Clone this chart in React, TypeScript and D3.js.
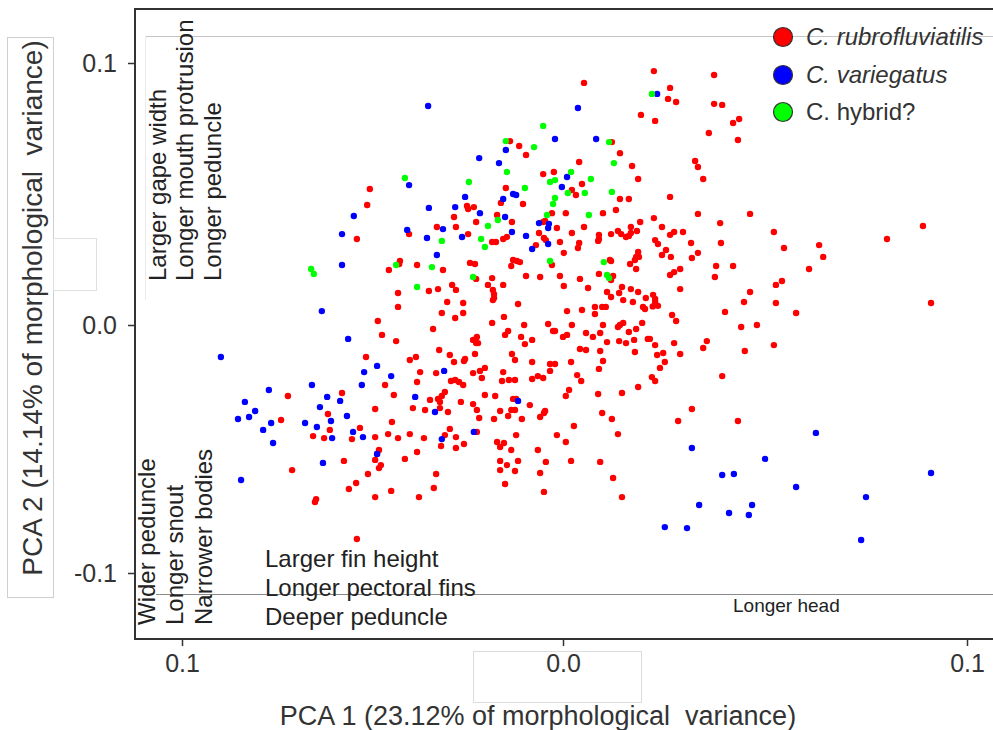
import { useEffect, useRef } from "react";
import * as d3 from "d3";

type Pt = [number, number];

// PCA scores: [PCA 1, PCA 2]
const redPts: Pt[] = [
  [-0.0507, 0.0519], [-0.0514, 0.0458], [-0.0541, 0.0328], [-0.0457, 0.021], [-0.043, 0.0233], [-0.0428, 0.0244], [-0.0433, 0.0122],
  [0.0052, 0.0924], [0.0193, 0.0802], [0.0121, 0.0698], [-0.0139, 0.0702], [-0.0115, 0.0683], [-0.0097, 0.0649], [0.0141, 0.0656],
  [0.004, 0.0622], [0.0171, 0.0607], [-0.0052, 0.0576], [-0.0024, 0.0584], [0.0186, 0.0557], [-0.015, 0.0523], [0.0022, 0.0515],
  [0.0047, 0.0538], [0.0032, 0.0496], [0.0141, 0.0481], [0.0163, 0.0481], [-0.0163, 0.0466], [-0.0105, 0.0462], [-0.0252, 0.0454],
  [-0.0249, 0.0443], [-0.0234, 0.045], [-0.0286, 0.0412], [-0.0228, 0.0393], [-0.0173, 0.042], [-0.0134, 0.0393], [-0.0029, 0.0427],
  [0.0007, 0.0427], [0.0099, 0.0427], [0.0131, 0.0439], [0.0191, 0.0393], [-0.0331, 0.0374], [-0.0281, 0.0374], [-0.0052, 0.0393],
  [-0.0047, 0.0397], [-0.0016, 0.037], [0.0052, 0.0374], [0.0168, 0.0374], [-0.0404, 0.0347], [-0.0249, 0.0347], [-0.0186, 0.0317],
  [-0.0176, 0.0317], [-0.0157, 0.0328], [-0.0147, 0.0336], [-0.0063, 0.0351], [-0.005, 0.0332], [-0.0045, 0.0324], [0.0022, 0.0351],
  [0.0089, 0.0344], [0.0089, 0.0328], [0.0087, 0.0321], [0.0119, 0.0347], [0.0136, 0.0359], [0.0144, 0.0347], [0.0156, 0.0336],
  [0.0163, 0.034], [0.0168, 0.0351], [0.0183, 0.0359], [-0.0071, 0.0305], [-0.0008, 0.0317], [0.004, 0.0313], [0.0037, 0.0294],
  [0.0002, 0.0275], [0.0186, 0.0279], [0.0181, 0.026], [0.0178, 0.0248], [0.0188, 0.026], [0.0116, 0.0248], [0.0119, 0.0244],
  [0.0089, 0.0195], [0.0119, 0.0172], [-0.0383, 0.0229], [-0.0315, 0.021], [-0.0244, 0.0237], [-0.0231, 0.0233], [-0.0136, 0.0225],
  [-0.0131, 0.0248], [-0.0121, 0.0244], [-0.0113, 0.024], [-0.0029, 0.0229], [-0.0097, 0.0187], [-0.006, 0.0183], [-0.0008, 0.0187],
  [0.0042, 0.0176], [0.0166, 0.0233], [0.0181, 0.0214], [0.0124, 0.0187], [0.0146, 0.0145], [0.0168, 0.0137], [0.0186, 0.0126],
  [0.0109, 0.0126], [0.0119, 0.0107], [0.0062, 0.0141], [0.0002, 0.0149], [-0.0228, 0.0176], [-0.0291, 0.0153], [-0.0281, 0.0134],
  [-0.0352, 0.013], [-0.0328, 0.0137], [-0.0197, 0.0153], [-0.0186, 0.0179], [-0.0184, 0.0134], [-0.0181, 0.0118], [-0.0181, 0.0103],
  [-0.0157, 0.0153], [0.0139, 0.0122], [0.0205, 0.0103],
  [0.0225, 0.0969], [0.0374, 0.0954], [0.0265, 0.0905], [0.026, 0.0863], [0.028, 0.0851], [0.0374, 0.0844], [0.0394, 0.084],
  [0.0228, 0.0779], [0.0436, 0.0786], [0.0421, 0.0771], [0.0361, 0.0733], [0.0433, 0.0706], [0.0327, 0.0626], [0.0334, 0.0603],
  [0.0347, 0.0557], [0.0265, 0.0489], [0.0334, 0.0424], [0.0463, 0.0424], [0.0225, 0.0408], [0.0245, 0.0374], [0.0389, 0.0389],
  [0.0522, 0.0355], [0.0265, 0.0344], [0.0275, 0.0355], [0.0297, 0.0355], [0.0228, 0.0324], [0.0235, 0.0309], [0.0317, 0.0313],
  [0.0391, 0.0313], [0.0547, 0.0294], [0.0634, 0.0305], [0.0644, 0.026], [0.0245, 0.0267], [0.0255, 0.0286], [0.0267, 0.026],
  [0.0319, 0.0256], [0.0334, 0.0275], [0.0379, 0.0225], [0.0421, 0.0225], [0.0609, 0.0214], [0.0265, 0.0191], [0.0275, 0.0202],
  [0.029, 0.0214], [0.0376, 0.0183], [0.0542, 0.0168], [0.0527, 0.0153], [0.029, 0.0137], [0.0463, 0.0126], [0.0228, 0.0099],
  [0.0223, 0.0115], [0.0802, 0.0328], [0.0891, 0.0378],
  [-0.0433, 0.0069], [-0.0486, 0.0015], [-0.0475, -0.004], [-0.0438, -0.0065], [-0.0517, -0.0129], [-0.0402, -0.0141], [-0.0386, -0.0129],
  [-0.0375, -0.019], [-0.0467, -0.0242], [-0.0383, -0.023], [-0.0722, -0.0286], [-0.058, -0.0274], [-0.0444, -0.0282], [-0.0349, -0.0302],
  [-0.0493, -0.0339], [-0.0394, -0.0335], [-0.0362, -0.0343], [-0.0617, -0.0359], [-0.074, -0.0383], [-0.0612, -0.0423], [-0.0533, -0.0415],
  [-0.0449, -0.0391], [-0.0656, -0.0448], [-0.0627, -0.0456], [-0.0554, -0.046], [-0.0493, -0.0452], [-0.0459, -0.044], [-0.0433, -0.0456],
  [-0.0402, -0.044], [-0.0365, -0.0456], [-0.0483, -0.0504], [-0.0488, -0.052], [-0.0493, -0.0544], [-0.0383, -0.0512], [-0.0415, -0.054],
  [-0.0575, -0.0548], [-0.0711, -0.0585], [-0.0478, -0.0565], [-0.0483, -0.0577], [-0.0512, -0.0601], [-0.0543, -0.0637], [-0.0562, -0.0661],
  [-0.0451, -0.0669], [-0.0493, -0.0694], [-0.0378, -0.0694], [-0.0648, -0.0702], [-0.0651, -0.0714], [-0.0541, -0.0863],
  [-0.0304, 0.0088], [-0.0262, 0.0084], [-0.0184, 0.0095], [-0.0118, 0.008], [-0.0318, 0.0046], [-0.0262, 0.0046], [-0.0283, 0.0027],
  [-0.0155, 0.0031], [0.001, 0.0053], [0.0047, 0.0057], [0.0079, 0.0069], [0.0079, 0.0042], [0.0097, 0.0069], [0.0106, 0.0069],
  [0.0149, 0.0095], [0.0173, 0.0088], [0.0198, 0.0069], [0.0203, 0.0061], [-0.0341, -0.0016], [-0.0186, 0.0008], [-0.0102, 0],
  [-0.0039, 0.0004], [-0.0026, -0.0024], [-0.0021, -0.0024], [0.0022, 0], [0.0099, 0], [0.0141, 0], [0.0149, 0.0008],
  [0.0136, -0.0008], [0.0163, -0.0028], [0.0181, -0.0016], [0.0196, 0.0008], [-0.0144, -0.0024], [-0.0152, -0.004], [-0.011, -0.0048],
  [-0.01, -0.0077], [-0.0081, -0.006], [0, -0.0048], [0.001, -0.004], [0.0057, -0.0032], [0.0074, -0.0048], [0.0092, -0.0032],
  [0.0109, -0.0069], [0.0139, -0.0065], [0.0156, -0.0073], [0.0176, -0.006], [0.021, -0.0056], [-0.0236, -0.006], [-0.0226, -0.0048],
  [-0.0223, -0.0073], [-0.0228, -0.0073], [-0.0325, -0.0101], [-0.0297, -0.0121], [-0.0286, -0.0149], [-0.026, -0.0145], [-0.0257, -0.0137],
  [-0.0231, -0.0117], [-0.0134, -0.0117], [-0.0126, -0.0141], [-0.0081, -0.0149], [-0.0034, -0.0157], [-0.0021, -0.0157], [-0.0034, -0.0185],
  [0.002, -0.0149], [0.0042, -0.0097], [0.0057, -0.0101], [0.0092, -0.0105], [0.0099, -0.0145], [0.0089, -0.0177], [0.0178, -0.0109],
  [-0.0333, -0.0194], [-0.0236, -0.0194], [-0.0218, -0.0185], [-0.0205, -0.0173], [-0.0213, -0.0214], [-0.0157, -0.019], [-0.016, -0.0226],
  [-0.0142, -0.0222], [-0.0126, -0.0222], [-0.0081, -0.0218], [-0.0066, -0.0206], [-0.0052, -0.0214], [0.0035, -0.0202], [0.0045, -0.0226],
  [0.0015, -0.0262], [0.0007, -0.0286], [0.0087, -0.0278], [0.0146, -0.0274], [0.0186, -0.025], [-0.0294, -0.0226], [-0.0283, -0.0222],
  [-0.0273, -0.023], [-0.0262, -0.0242], [-0.031, -0.027], [-0.0318, -0.0286], [-0.0328, -0.0298], [-0.0323, -0.031], [-0.0323, -0.0335],
  [-0.0302, -0.0351], [-0.0268, -0.031], [-0.0236, -0.0319], [-0.0226, -0.0343], [-0.022, -0.0375], [-0.0205, -0.0282], [-0.0178, -0.0286],
  [-0.0181, -0.0379], [-0.0165, -0.0347], [-0.0144, -0.0367], [-0.0136, -0.0343], [-0.0126, -0.0343], [-0.0131, -0.0298], [-0.0123, -0.0298],
  [-0.0108, -0.0379], [-0.0087, -0.0323], [-0.006, -0.0371], [-0.005, -0.0355], [-0.0047, -0.0347], [0.0097, -0.0355], [0.0121, -0.0379],
  [-0.0297, -0.0419], [-0.0281, -0.0452], [-0.0281, -0.0496], [-0.026, -0.048], [-0.031, -0.0444], [-0.032, -0.0488], [-0.0226, -0.0431],
  [-0.0173, -0.0472], [-0.0165, -0.0492], [-0.0155, -0.0476], [-0.0123, -0.0444], [-0.0136, -0.0504], [-0.0066, -0.0504], [-0.0016, -0.0444],
  [0.0007, -0.0472], [0.0027, -0.0407], [0.0136, -0.044], [-0.0165, -0.0548], [-0.0147, -0.0565], [-0.0118, -0.0548], [-0.0126, -0.0589],
  [-0.0165, -0.0585], [-0.0045, -0.0552], [-0.006, -0.0597], [0.002, -0.0548], [0.0092, -0.0552], [-0.0333, -0.0601], [-0.0339, -0.0657],
  [-0.0152, -0.0641], [-0.005, -0.0673], [0.0124, -0.0617], [0.0146, -0.0694],
  [0.0228, 0.0088], [0.0235, 0.0073], [0.0222, 0.0071], [0.0448, 0.0088], [0.0527, 0.0084], [0.0911, 0.0084], [0.0401, 0.005],
  [0.0577, 0.0046], [0.027, 0.0038], [0.028, 0.0015], [0.0441, -0.0008], [0.048, 0], [0.0215, -0.0056], [0.0228, -0.0081],
  [0.0233, -0.0121], [0.0248, -0.0113], [0.0252, -0.0149], [0.024, -0.0173], [0.022, -0.021], [0.0228, -0.0226], [0.0275, -0.0073],
  [0.029, -0.0117], [0.0347, -0.0093], [0.0356, -0.0065], [0.045, -0.0105], [0.0522, -0.0081], [0.0394, -0.0206], [0.0319, -0.0339],
  [0.0285, -0.0387], [0.0433, -0.0387],
];

const bluePts: Pt[] = [
  [-0.0549, 0.0416], [-0.058, 0.0347], [-0.058, 0.0229], [-0.0354, 0.0836], [0.0037, 0.0828], [-0.0021, 0.071], [0.0082, 0.071],
  [-0.015, 0.0668], [-0.022, 0.0637], [-0.0168, 0.0618], [0.001, 0.0565], [-0.0404, 0.0534], [-0.0003, 0.0527], [-0.0131, 0.05],
  [-0.0123, 0.0496], [-0.0257, 0.0489], [-0.0157, 0.0481], [-0.0352, 0.0447], [-0.0283, 0.045], [-0.0218, 0.0427], [-0.0152, 0.0412],
  [-0.0315, 0.0366], [-0.0063, 0.0389], [-0.0037, 0.0386], [-0.0039, 0.037], [-0.0409, 0.0363], [-0.0357, 0.0332], [-0.0265, 0.0336],
  [-0.0134, 0.0355], [-0.0097, 0.034], [-0.0331, 0.0267], [-0.0039, 0.0309], [-0.0081, 0.029], [0.0233, 0.0882],
  [-0.0633, 0.0053], [-0.0564, -0.0056], [-0.0898, -0.0129], [-0.0488, -0.0165], [-0.0522, -0.019], [-0.0451, -0.0206], [-0.0659, -0.0242],
  [-0.0528, -0.0242], [-0.0772, -0.0262], [-0.0619, -0.029], [-0.0585, -0.0306], [-0.0388, -0.029], [-0.0835, -0.031], [-0.0808, -0.0347],
  [-0.0824, -0.0371], [-0.0853, -0.0379], [-0.0638, -0.0331], [-0.0609, -0.0387], [-0.0567, -0.0367], [-0.0766, -0.0395], [-0.0677, -0.0395],
  [-0.0646, -0.0411], [-0.0787, -0.0423], [-0.0761, -0.0476], [-0.0606, -0.0456], [-0.0551, -0.0431], [-0.0525, -0.0452], [-0.0488, -0.052],
  [-0.063, -0.0556], [-0.0845, -0.0625],
  [-0.0312, -0.0185], [-0.0336, -0.0351], [-0.0118, -0.0306], [-0.0318, -0.046], [-0.0234, -0.0431],
  [0.0626, -0.0435], [0.0319, -0.0496], [0.05, -0.054], [0.0394, -0.0605], [0.0423, -0.0601], [0.0911, -0.0597], [0.0577, -0.0653],
  [0.075, -0.0694], [0.0337, -0.0726], [0.0468, -0.0726], [0.0411, -0.0758], [0.046, -0.0766], [0.0252, -0.0815], [0.0307, -0.0819],
  [0.0738, -0.0867],
];

const greenPts: Pt[] = [
  [-0.0661, 0.0214], [-0.0654, 0.0195], [-0.0438, 0.0229], [-0.0052, 0.076], [0.0114, 0.0698], [-0.015, 0.0702], [-0.0076, 0.0679],
  [0.0126, 0.0618], [-0.0147, 0.0584], [0.002, 0.0584], [-0.0034, 0.0546], [-0.0021, 0.0553], [0.0069, 0.0557], [-0.0415, 0.0561],
  [-0.0247, 0.0546], [-0.01, 0.0523], [0.0012, 0.0504], [0.0054, 0.0504], [0.0121, 0.0508], [-0.0021, 0.0485], [-0.0026, 0.0462],
  [-0.0171, 0.0401], [-0.0042, 0.042], [0.0064, 0.042], [-0.0197, 0.0378], [-0.0318, 0.0321], [-0.0215, 0.0328], [-0.0205, 0.0298],
  [0.0101, 0.024], [0.0109, 0.0191], [0.0114, 0.0179], [-0.0344, 0.0221], [-0.0034, 0.0244], [-0.0383, 0.0145], [-0.0236, 0.0183],
  [0.022, 0.0882],
];

const xTicks = [-0.1, 0, 0.1];
const xTickLabels = ["0.1", "0.0", "0.1"];
const yTicks = [-0.1, 0, 0.1];
const yTickLabels = ["-0.1", "0.0", "0.1"];

const legendNames = ["C. rubrofluviatilis", "C. variegatus", "C. hybrid?"];
const legendColors = ["#ff0000", "#0000ff", "#00ff00"];
const legendItalic = [true, true, false];

const topNotes = ["Larger gape width", "Longer mouth protrusion", "Longer peduncle"];
const leftNotes = ["Wider peduncle", "Longer snout", "Narrower bodies"];
const bottomNotes = ["Larger fin height", "Longer pectoral fins", "Deeper peduncle"];

const FONT = "'Liberation Sans', Arial, Helvetica, sans-serif";

export default function App() {
  const ref = useRef<SVGSVGElement>(null);

  useEffect(() => {
    document.body.style.margin = "0";
    if (!ref.current) return;
    const svg = d3.select(ref.current);
    svg.selectAll("*").remove();

    const x = d3.scaleLinear().domain([-0.1, 0, 0.1]).range([182, 563, 967]);
    const y = d3.scaleLinear().domain([-0.1, 0, 0.1]).range([573, 325, 63]);

    svg.append("rect").attr("width", 993).attr("height", 730).attr("fill", "#fff");

    // boxes left over from the pasted labels
    svg.append("rect").attr("x", 7.5).attr("y", 37.5).attr("width", 46).attr("height", 560)
      .attr("fill", "#fff").attr("stroke", "#cfcfcf");
    svg.append("rect").attr("x", 53.5).attr("y", 238.5).attr("width", 43).attr("height", 52)
      .attr("fill", "#fff").attr("stroke", "#e0e0e0");
    svg.append("rect").attr("x", 473.5).attr("y", 651.5).attr("width", 168).attr("height", 51)
      .attr("fill", "#fff").attr("stroke", "#dcdcdc");

    // thin grey guide lines
    svg.append("line").attr("x1", 145).attr("x2", 993).attr("y1", 36.5).attr("y2", 36.5)
      .attr("stroke", "#c4c4c4").attr("stroke-width", 1);
    svg.append("line").attr("x1", 145.5).attr("x2", 145.5).attr("y1", 36).attr("y2", 300)
      .attr("stroke", "#ececec").attr("stroke-width", 1);
    svg.append("line").attr("x1", 156).attr("x2", 993).attr("y1", 594.5).attr("y2", 594.5)
      .attr("stroke", "#8a8a8a").attr("stroke-width", 1);

    // points
    const groups: [Pt[], string][] = [
      [redPts, legendColors[0]],
      [bluePts, legendColors[1]],
      [greenPts, legendColors[2]],
    ];
    groups.forEach(([pts, col]) => {
      svg.append("g")
        .selectAll("circle")
        .data(pts)
        .enter()
        .append("circle")
        .attr("cx", (d) => x(d[0]))
        .attr("cy", (d) => y(d[1]))
        .attr("r", 3.2)
        .attr("fill", col);
    });

    // axes
    const xAxis = svg.append("g")
      .attr("transform", "translate(0,639)")
      .call(d3.axisBottom(x).tickValues(xTicks).tickFormat((_, i) => xTickLabels[i]).tickSize(7).tickPadding(8));
    xAxis.select(".domain").remove();
    xAxis.selectAll("line").attr("stroke", "#333").attr("stroke-width", 1.5);
    xAxis.selectAll("text").attr("fill", "#333").style("font-size", "25px").style("font-family", FONT);

    const yAxis = svg.append("g")
      .attr("transform", "translate(135,0)")
      .call(d3.axisLeft(y).tickValues(yTicks).tickFormat((_, i) => yTickLabels[i]).tickSize(7).tickPadding(11));
    yAxis.select(".domain").remove();
    yAxis.selectAll("line").attr("stroke", "#333").attr("stroke-width", 1.5);
    yAxis.selectAll("text").attr("fill", "#333").style("font-size", "25px").style("font-family", FONT);

    // frame
    svg.append("path")
      .attr("d", "M993,9 H135 V639 H993")
      .attr("fill", "none")
      .attr("stroke", "#333")
      .attr("stroke-width", 2);

    // axis titles
    svg.append("text")
      .attr("transform", "translate(42,308) rotate(-90)")
      .attr("text-anchor", "middle")
      .attr("fill", "#333")
      .style("font-family", FONT)
      .style("font-size", "28px")
      .style("white-space", "pre")
      .text("PCA 2 (14.14% of morphological  variance)");
    svg.append("text")
      .attr("x", 538)
      .attr("y", 725)
      .attr("text-anchor", "middle")
      .attr("fill", "#333")
      .style("font-family", FONT)
      .style("font-size", "27px")
      .style("white-space", "pre")
      .text("PCA 1 (23.12% of morphological  variance)");

    // trait annotations
    const noteStyle = (sel: d3.Selection<SVGTextElement, string, SVGGElement, unknown>) =>
      sel.attr("fill", "#222").style("font-family", FONT).style("font-size", "24px");

    const topX = [166, 193, 221];
    svg.append("g").selectAll("text").data(topNotes).enter().append("text")
      .attr("transform", (_, i) => `translate(${topX[i]},281) rotate(-90)`)
      .text((d) => d)
      .call(noteStyle);

    const leftX = [155, 183, 212];
    svg.append("g").selectAll("text").data(leftNotes).enter().append("text")
      .attr("transform", (_, i) => `translate(${leftX[i]},625) rotate(-90)`)
      .text((d) => d)
      .call(noteStyle);

    const bottomY = [567, 596, 625];
    svg.append("g").selectAll("text").data(bottomNotes).enter().append("text")
      .attr("x", 265)
      .attr("y", (_, i) => bottomY[i])
      .text((d) => d)
      .call(noteStyle);

    svg.append("text")
      .attr("x", 733)
      .attr("y", 612)
      .attr("fill", "#222")
      .style("font-family", FONT)
      .style("font-size", "19px")
      .text("Longer head");

    // legend
    const legY = [37, 75, 112];
    const leg = svg.append("g");
    legendNames.forEach((name, i) => {
      leg.append("circle")
        .attr("cx", 783)
        .attr("cy", legY[i])
        .attr("r", 9.5)
        .attr("fill", legendColors[i])
        .attr("stroke", "#333")
        .attr("stroke-width", 1.2);
      leg.append("text")
        .attr("x", 806)
        .attr("y", legY[i] + 8)
        .attr("fill", "#333")
        .style("font-family", FONT)
        .style("font-size", "24px")
        .style("font-style", legendItalic[i] ? "italic" : "normal")
        .text(name);
    });
  }, []);

  return <svg ref={ref} width={993} height={730} style={{ display: "block" }} />;
}
